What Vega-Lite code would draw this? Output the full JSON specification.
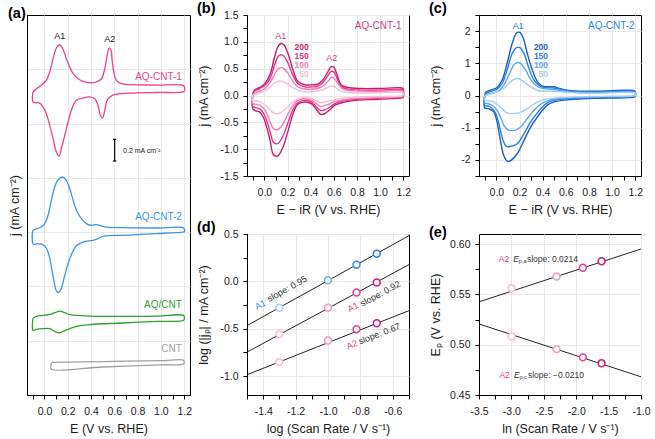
{
"$schema":"https://vega.github.io/schema/vega-lite/v6.json",
"padding":{"left":7,"top":0,"right":0,"bottom":0},
"config":{
 "font":"Liberation Sans",
 "view":{"stroke":"#000","strokeWidth":1},
 "axis":{"domainColor":"#000","domainWidth":1,"tickColor":"#000","tickSize":4,"labelColor":"#1a1a1a","titleColor":"#1a1a1a","labelFontSize":10.5,"titleFontSize":12.5,"titleFontWeight":"normal","gridColor":"#e8e8e8","labelFlush":false,"labelOverlap":false,"labelBound":false,"labelFont":"Liberation Sans","titleFont":"Liberation Sans"},
 "axisX":{"labelPadding":7,"titlePadding":6},
 "axisY":{"labelPadding":5,"titlePadding":9,"minExtent":28,"maxExtent":28},
 "title":{"fontSize":14.5,"fontWeight":"bold","anchor":"start","frame":"bounds","offset":-6,"color":"#000","font":"Liberation Sans"},
 "text":{"font":"Liberation Sans"}
},
"datasets":{
"a":[
{"s":"1","x":-0.098,"y":2.791},{"s":"1","x":-0.069,"y":2.821},{"s":"1","x":-0.027,"y":2.852},{"s":"1","x":0.016,"y":2.898},{"s":"1","x":0.045,"y":2.975},{"s":"1","x":0.074,"y":3.098},{"s":"1","x":0.102,"y":3.196},{"s":"1","x":0.128,"y":3.226},{"s":"1","x":0.154,"y":3.196},{"s":"1","x":0.188,"y":3.098},{"s":"1","x":0.217,"y":3.021},{"s":"1","x":0.246,"y":2.959},{"s":"1","x":0.289,"y":2.913},{"s":"1","x":0.331,"y":2.889},{"s":"1","x":0.389,"y":2.876},{"s":"1","x":0.446,"y":2.883},{"s":"1","x":0.489,"y":2.913},{"s":"1","x":0.518,"y":3.005},{"s":"1","x":0.538,"y":3.128},{"s":"1","x":0.555,"y":3.196},{"s":"1","x":0.569,"y":3.183},{"s":"1","x":0.583,"y":3.067},{"s":"1","x":0.598,"y":2.959},{"s":"1","x":0.618,"y":2.898},{"s":"1","x":0.661,"y":2.867},{"s":"1","x":0.732,"y":2.858},{"s":"1","x":0.961,"y":2.855},{"s":"1","x":1.19,"y":2.852},{"s":"1","x":1.202,"y":2.835},{"s":"1","x":1.202,"y":2.8},{"s":"1","x":1.19,"y":2.791},{"s":"1","x":0.961,"y":2.786},{"s":"1","x":0.661,"y":2.775},{"s":"1","x":0.583,"y":2.76},{"s":"1","x":0.538,"y":2.714},{"s":"1","x":0.518,"y":2.622},{"s":"1","x":0.498,"y":2.551},{"s":"1","x":0.48,"y":2.576},{"s":"1","x":0.46,"y":2.668},{"s":"1","x":0.432,"y":2.729},{"s":"1","x":0.389,"y":2.745},{"s":"1","x":0.331,"y":2.735},{"s":"1","x":0.274,"y":2.714},{"s":"1","x":0.231,"y":2.622},{"s":"1","x":0.203,"y":2.514},{"s":"1","x":0.174,"y":2.392},{"s":"1","x":0.145,"y":2.269},{"s":"1","x":0.125,"y":2.201},{"s":"1","x":0.102,"y":2.238},{"s":"1","x":0.074,"y":2.361},{"s":"1","x":0.045,"y":2.484},{"s":"1","x":0.016,"y":2.591},{"s":"1","x":-0.012,"y":2.652},{"s":"1","x":-0.041,"y":2.689},{"s":"1","x":-0.084,"y":2.692},{"s":"1","x":-0.098,"y":2.698},{"s":"1","x":-0.104,"y":2.729},{"s":"1","x":-0.098,"y":2.791},
{"s":"2","x":-0.098,"y":1.517},{"s":"2","x":-0.069,"y":1.532},{"s":"2","x":-0.027,"y":1.547},{"s":"2","x":0.002,"y":1.578},{"s":"2","x":0.031,"y":1.655},{"s":"2","x":0.059,"y":1.793},{"s":"2","x":0.088,"y":1.916},{"s":"2","x":0.117,"y":1.983},{"s":"2","x":0.154,"y":2.008},{"s":"2","x":0.188,"y":1.977},{"s":"2","x":0.217,"y":1.9},{"s":"2","x":0.246,"y":1.793},{"s":"2","x":0.274,"y":1.701},{"s":"2","x":0.317,"y":1.624},{"s":"2","x":0.36,"y":1.578},{"s":"2","x":0.403,"y":1.563},{"s":"2","x":0.446,"y":1.569},{"s":"2","x":0.489,"y":1.557},{"s":"2","x":0.532,"y":1.547},{"s":"2","x":0.675,"y":1.541},{"s":"2","x":0.961,"y":1.538},{"s":"2","x":1.19,"y":1.541},{"s":"2","x":1.202,"y":1.525},{"s":"2","x":1.202,"y":1.505},{"s":"2","x":1.19,"y":1.501},{"s":"2","x":0.961,"y":1.486},{"s":"2","x":0.675,"y":1.471},{"s":"2","x":0.503,"y":1.462},{"s":"2","x":0.46,"y":1.44},{"s":"2","x":0.417,"y":1.425},{"s":"2","x":0.331,"y":1.409},{"s":"2","x":0.274,"y":1.375},{"s":"2","x":0.232,"y":1.295},{"s":"2","x":0.2,"y":1.2},{"s":"2","x":0.174,"y":1.1},{"s":"2","x":0.15,"y":1.0},{"s":"2","x":0.132,"y":0.955},{"s":"2","x":0.117,"y":0.944},{"s":"2","x":0.1,"y":0.965},{"s":"2","x":0.085,"y":1.03},{"s":"2","x":0.067,"y":1.133},{"s":"2","x":0.045,"y":1.26},{"s":"2","x":0.02,"y":1.345},{"s":"2","x":-0.015,"y":1.385},{"s":"2","x":-0.06,"y":1.392},{"s":"2","x":-0.098,"y":1.39},{"s":"2","x":-0.104,"y":1.43},{"s":"2","x":-0.104,"y":1.49},{"s":"2","x":-0.098,"y":1.517},
{"s":"g","x":-0.098,"y":0.709},{"s":"g","x":-0.069,"y":0.724},{"s":"g","x":-0.012,"y":0.733},{"s":"g","x":0.045,"y":0.743},{"s":"g","x":0.088,"y":0.758},{"s":"g","x":0.131,"y":0.773},{"s":"g","x":0.174,"y":0.758},{"s":"g","x":0.217,"y":0.74},{"s":"g","x":0.274,"y":0.733},{"s":"g","x":0.389,"y":0.727},{"s":"g","x":0.675,"y":0.724},{"s":"g","x":0.961,"y":0.727},{"s":"g","x":1.195,"y":0.733},{"s":"g","x":1.202,"y":0.71},{"s":"g","x":1.195,"y":0.688},{"s":"g","x":0.961,"y":0.678},{"s":"g","x":0.675,"y":0.663},{"s":"g","x":0.389,"y":0.648},{"s":"g","x":0.274,"y":0.632},{"s":"g","x":0.217,"y":0.611},{"s":"g","x":0.16,"y":0.586},{"s":"g","x":0.125,"y":0.571},{"s":"g","x":0.088,"y":0.586},{"s":"g","x":0.045,"y":0.611},{"s":"g","x":-0.012,"y":0.611},{"s":"g","x":-0.069,"y":0.605},{"s":"g","x":-0.098,"y":0.595},{"s":"g","x":-0.104,"y":0.641},{"s":"g","x":-0.098,"y":0.709},
{"s":"c","x":0.06,"y":0.3},{"s":"c","x":0.5,"y":0.308},{"s":"c","x":1.0,"y":0.316},{"s":"c","x":1.195,"y":0.32},{"s":"c","x":1.2,"y":0.3},{"s":"c","x":1.195,"y":0.285},{"s":"c","x":1.0,"y":0.278},{"s":"c","x":0.5,"y":0.258},{"s":"c","x":0.06,"y":0.237},{"s":"c","x":0.055,"y":0.27},{"s":"c","x":0.06,"y":0.3}
],
"b":[
{"s":"200","x":-0.1,"y":0.04},{"s":"200","x":-0.08,"y":0.11},{"s":"200","x":-0.04,"y":0.15},{"s":"200","x":0.0,"y":0.21},{"s":"200","x":0.05,"y":0.4},{"s":"200","x":0.09,"y":0.73},{"s":"200","x":0.12,"y":0.92},{"s":"200","x":0.145,"y":0.97},{"s":"200","x":0.17,"y":0.94},{"s":"200","x":0.205,"y":0.78},{"s":"200","x":0.25,"y":0.46},{"s":"200","x":0.29,"y":0.26},{"s":"200","x":0.35,"y":0.2},{"s":"200","x":0.41,"y":0.2},{"s":"200","x":0.46,"y":0.21},{"s":"200","x":0.506,"y":0.29},{"s":"200","x":0.549,"y":0.44},{"s":"200","x":0.578,"y":0.54},{"s":"200","x":0.6,"y":0.53},{"s":"200","x":0.629,"y":0.38},{"s":"200","x":0.663,"y":0.2},{"s":"200","x":0.72,"y":0.15},{"s":"200","x":0.84,"y":0.13},{"s":"200","x":0.98,"y":0.13},{"s":"200","x":1.19,"y":0.14},{"s":"200","x":1.2,"y":0.12},{"s":"200","x":1.2,"y":-0.03},{"s":"200","x":1.19,"y":-0.045},{"s":"200","x":0.98,"y":-0.07},{"s":"200","x":0.75,"y":-0.1},{"s":"200","x":0.66,"y":-0.14},{"s":"200","x":0.61,"y":-0.18},{"s":"200","x":0.563,"y":-0.27},{"s":"200","x":0.52,"y":-0.34},{"s":"200","x":0.486,"y":-0.35},{"s":"200","x":0.457,"y":-0.28},{"s":"200","x":0.406,"y":-0.15},{"s":"200","x":0.348,"y":-0.12},{"s":"200","x":0.291,"y":-0.16},{"s":"200","x":0.248,"y":-0.34},{"s":"200","x":0.205,"y":-0.66},{"s":"200","x":0.16,"y":-0.97},{"s":"200","x":0.12,"y":-1.12},{"s":"200","x":0.1,"y":-1.13},{"s":"200","x":0.075,"y":-1.09},{"s":"200","x":0.05,"y":-0.84},{"s":"200","x":0.02,"y":-0.59},{"s":"200","x":-0.01,"y":-0.4},{"s":"200","x":-0.04,"y":-0.31},{"s":"200","x":-0.08,"y":-0.28},{"s":"200","x":-0.1,"y":-0.25},{"s":"200","x":-0.104,"y":-0.1},{"s":"200","x":-0.1,"y":0.04},
{"s":"150","x":-0.1,"y":0.03},{"s":"150","x":-0.08,"y":0.09},{"s":"150","x":-0.04,"y":0.13},{"s":"150","x":0.0,"y":0.18},{"s":"150","x":0.05,"y":0.32},{"s":"150","x":0.09,"y":0.58},{"s":"150","x":0.12,"y":0.73},{"s":"150","x":0.145,"y":0.76},{"s":"150","x":0.17,"y":0.73},{"s":"150","x":0.205,"y":0.6},{"s":"150","x":0.25,"y":0.36},{"s":"150","x":0.29,"y":0.22},{"s":"150","x":0.35,"y":0.16},{"s":"150","x":0.41,"y":0.16},{"s":"150","x":0.46,"y":0.17},{"s":"150","x":0.506,"y":0.24},{"s":"150","x":0.549,"y":0.37},{"s":"150","x":0.578,"y":0.45},{"s":"150","x":0.6,"y":0.44},{"s":"150","x":0.629,"y":0.32},{"s":"150","x":0.663,"y":0.17},{"s":"150","x":0.72,"y":0.12},{"s":"150","x":0.84,"y":0.1},{"s":"150","x":0.98,"y":0.1},{"s":"150","x":1.19,"y":0.11},{"s":"150","x":1.2,"y":0.09},{"s":"150","x":1.2,"y":-0.01},{"s":"150","x":1.19,"y":-0.025},{"s":"150","x":0.98,"y":-0.05},{"s":"150","x":0.75,"y":-0.08},{"s":"150","x":0.66,"y":-0.11},{"s":"150","x":0.61,"y":-0.15},{"s":"150","x":0.563,"y":-0.22},{"s":"150","x":0.52,"y":-0.27},{"s":"150","x":0.486,"y":-0.28},{"s":"150","x":0.457,"y":-0.23},{"s":"150","x":0.406,"y":-0.12},{"s":"150","x":0.348,"y":-0.09},{"s":"150","x":0.291,"y":-0.13},{"s":"150","x":0.248,"y":-0.26},{"s":"150","x":0.205,"y":-0.5},{"s":"150","x":0.16,"y":-0.76},{"s":"150","x":0.12,"y":-0.89},{"s":"150","x":0.1,"y":-0.9},{"s":"150","x":0.075,"y":-0.86},{"s":"150","x":0.05,"y":-0.68},{"s":"150","x":0.02,"y":-0.47},{"s":"150","x":-0.01,"y":-0.32},{"s":"150","x":-0.04,"y":-0.25},{"s":"150","x":-0.08,"y":-0.22},{"s":"150","x":-0.1,"y":-0.21},{"s":"150","x":-0.104,"y":-0.08},{"s":"150","x":-0.1,"y":0.03},
{"s":"100","x":-0.1,"y":0.02},{"s":"100","x":-0.07,"y":0.06},{"s":"100","x":-0.03,"y":0.09},{"s":"100","x":0.01,"y":0.14},{"s":"100","x":0.05,"y":0.24},{"s":"100","x":0.09,"y":0.4},{"s":"100","x":0.12,"y":0.5},{"s":"100","x":0.145,"y":0.52},{"s":"100","x":0.17,"y":0.5},{"s":"100","x":0.205,"y":0.41},{"s":"100","x":0.25,"y":0.25},{"s":"100","x":0.29,"y":0.16},{"s":"100","x":0.35,"y":0.12},{"s":"100","x":0.41,"y":0.12},{"s":"100","x":0.46,"y":0.13},{"s":"100","x":0.52,"y":0.2},{"s":"100","x":0.56,"y":0.29},{"s":"100","x":0.58,"y":0.34},{"s":"100","x":0.6,"y":0.33},{"s":"100","x":0.64,"y":0.21},{"s":"100","x":0.68,"y":0.12},{"s":"100","x":0.75,"y":0.09},{"s":"100","x":0.98,"y":0.08},{"s":"100","x":1.19,"y":0.09},{"s":"100","x":1.2,"y":0.07},{"s":"100","x":1.2,"y":-0.005},{"s":"100","x":1.19,"y":-0.02},{"s":"100","x":0.98,"y":-0.04},{"s":"100","x":0.75,"y":-0.06},{"s":"100","x":0.66,"y":-0.09},{"s":"100","x":0.61,"y":-0.11},{"s":"100","x":0.56,"y":-0.16},{"s":"100","x":0.52,"y":-0.19},{"s":"100","x":0.49,"y":-0.21},{"s":"100","x":0.46,"y":-0.17},{"s":"100","x":0.41,"y":-0.09},{"s":"100","x":0.35,"y":-0.06},{"s":"100","x":0.29,"y":-0.09},{"s":"100","x":0.25,"y":-0.18},{"s":"100","x":0.205,"y":-0.34},{"s":"100","x":0.16,"y":-0.54},{"s":"100","x":0.12,"y":-0.63},{"s":"100","x":0.1,"y":-0.64},{"s":"100","x":0.075,"y":-0.61},{"s":"100","x":0.05,"y":-0.49},{"s":"100","x":0.02,"y":-0.33},{"s":"100","x":-0.01,"y":-0.23},{"s":"100","x":-0.04,"y":-0.18},{"s":"100","x":-0.08,"y":-0.16},{"s":"100","x":-0.1,"y":-0.15},{"s":"100","x":-0.104,"y":-0.06},{"s":"100","x":-0.1,"y":0.02},
{"s":"50","x":-0.1,"y":0.01},{"s":"50","x":-0.05,"y":0.04},{"s":"50","x":0.01,"y":0.09},{"s":"50","x":0.06,"y":0.18},{"s":"50","x":0.1,"y":0.25},{"s":"50","x":0.13,"y":0.27},{"s":"50","x":0.17,"y":0.25},{"s":"50","x":0.22,"y":0.18},{"s":"50","x":0.29,"y":0.1},{"s":"50","x":0.35,"y":0.07},{"s":"50","x":0.41,"y":0.07},{"s":"50","x":0.48,"y":0.09},{"s":"50","x":0.55,"y":0.15},{"s":"50","x":0.58,"y":0.18},{"s":"50","x":0.61,"y":0.16},{"s":"50","x":0.66,"y":0.08},{"s":"50","x":0.75,"y":0.05},{"s":"50","x":0.98,"y":0.05},{"s":"50","x":1.19,"y":0.06},{"s":"50","x":1.2,"y":0.045},{"s":"50","x":1.2,"y":0.0},{"s":"50","x":1.19,"y":-0.01},{"s":"50","x":0.98,"y":-0.02},{"s":"50","x":0.75,"y":-0.04},{"s":"50","x":0.64,"y":-0.06},{"s":"50","x":0.57,"y":-0.1},{"s":"50","x":0.52,"y":-0.12},{"s":"50","x":0.48,"y":-0.13},{"s":"50","x":0.44,"y":-0.09},{"s":"50","x":0.4,"y":-0.05},{"s":"50","x":0.33,"y":-0.04},{"s":"50","x":0.28,"y":-0.07},{"s":"50","x":0.23,"y":-0.15},{"s":"50","x":0.17,"y":-0.28},{"s":"50","x":0.12,"y":-0.34},{"s":"50","x":0.1,"y":-0.34},{"s":"50","x":0.07,"y":-0.31},{"s":"50","x":0.03,"y":-0.22},{"s":"50","x":-0.02,"y":-0.14},{"s":"50","x":-0.06,"y":-0.1},{"s":"50","x":-0.1,"y":-0.09},{"s":"50","x":-0.104,"y":-0.04},{"s":"50","x":-0.1,"y":0.01}
],
"c":[
{"s":"200","x":-0.1,"y":0.01},{"s":"200","x":-0.09,"y":0.11},{"s":"200","x":-0.051,"y":0.17},{"s":"200","x":0.006,"y":0.25},{"s":"200","x":0.05,"y":0.48},{"s":"200","x":0.093,"y":1.0},{"s":"200","x":0.137,"y":1.62},{"s":"200","x":0.175,"y":1.94},{"s":"200","x":0.203,"y":1.96},{"s":"200","x":0.233,"y":1.78},{"s":"200","x":0.267,"y":1.31},{"s":"200","x":0.311,"y":0.79},{"s":"200","x":0.354,"y":0.43},{"s":"200","x":0.398,"y":0.29},{"s":"200","x":0.456,"y":0.27},{"s":"200","x":0.499,"y":0.27},{"s":"200","x":0.543,"y":0.22},{"s":"200","x":0.644,"y":0.15},{"s":"200","x":0.847,"y":0.13},{"s":"200","x":1.19,"y":0.15},{"s":"200","x":1.2,"y":0.12},{"s":"200","x":1.2,"y":-0.03},{"s":"200","x":1.19,"y":-0.05},{"s":"200","x":0.847,"y":-0.09},{"s":"200","x":0.644,"y":-0.125},{"s":"200","x":0.499,"y":-0.2},{"s":"200","x":0.441,"y":-0.3},{"s":"200","x":0.398,"y":-0.46},{"s":"200","x":0.354,"y":-0.67},{"s":"200","x":0.296,"y":-0.98},{"s":"200","x":0.238,"y":-1.4},{"s":"200","x":0.18,"y":-1.81},{"s":"200","x":0.122,"y":-2.02},{"s":"200","x":0.095,"y":-2.04},{"s":"200","x":0.064,"y":-1.86},{"s":"200","x":0.035,"y":-1.4},{"s":"200","x":0.006,"y":-0.82},{"s":"200","x":-0.023,"y":-0.51},{"s":"200","x":-0.066,"y":-0.41},{"s":"200","x":-0.1,"y":-0.39},{"s":"200","x":-0.106,"y":-0.2},{"s":"200","x":-0.1,"y":0.01},
{"s":"150","x":-0.1,"y":0.0},{"s":"150","x":-0.08,"y":0.083},{"s":"150","x":-0.037,"y":0.135},{"s":"150","x":0.006,"y":0.198},{"s":"150","x":0.05,"y":0.375},{"s":"150","x":0.093,"y":0.79},{"s":"150","x":0.137,"y":1.31},{"s":"150","x":0.175,"y":1.49},{"s":"150","x":0.203,"y":1.49},{"s":"150","x":0.238,"y":1.31},{"s":"150","x":0.282,"y":0.84},{"s":"150","x":0.325,"y":0.48},{"s":"150","x":0.369,"y":0.32},{"s":"150","x":0.412,"y":0.25},{"s":"150","x":0.499,"y":0.23},{"s":"150","x":0.644,"y":0.13},{"s":"150","x":0.847,"y":0.11},{"s":"150","x":1.19,"y":0.13},{"s":"150","x":1.2,"y":0.11},{"s":"150","x":1.2,"y":-0.015},{"s":"150","x":1.19,"y":-0.03},{"s":"150","x":0.847,"y":-0.063},{"s":"150","x":0.644,"y":-0.094},{"s":"150","x":0.499,"y":-0.146},{"s":"150","x":0.441,"y":-0.229},{"s":"150","x":0.398,"y":-0.354},{"s":"150","x":0.354,"y":-0.542},{"s":"150","x":0.296,"y":-0.823},{"s":"150","x":0.238,"y":-1.188},{"s":"150","x":0.18,"y":-1.5},{"s":"150","x":0.122,"y":-1.583},{"s":"150","x":0.088,"y":-1.583},{"s":"150","x":0.064,"y":-1.448},{"s":"150","x":0.035,"y":-1.083},{"s":"150","x":0.006,"y":-0.667},{"s":"150","x":-0.023,"y":-0.458},{"s":"150","x":-0.066,"y":-0.333},{"s":"150","x":-0.1,"y":-0.313},{"s":"150","x":-0.106,"y":-0.15},{"s":"150","x":-0.1,"y":0.0},
{"s":"100","x":-0.1,"y":0.0},{"s":"100","x":-0.066,"y":0.042},{"s":"100","x":-0.023,"y":0.083},{"s":"100","x":0.021,"y":0.146},{"s":"100","x":0.064,"y":0.323},{"s":"100","x":0.108,"y":0.635},{"s":"100","x":0.151,"y":0.948},{"s":"100","x":0.18,"y":1.021},{"s":"100","x":0.209,"y":1.0},{"s":"100","x":0.253,"y":0.792},{"s":"100","x":0.296,"y":0.5},{"s":"100","x":0.34,"y":0.323},{"s":"100","x":0.398,"y":0.219},{"s":"100","x":0.499,"y":0.188},{"s":"100","x":0.644,"y":0.11},{"s":"100","x":0.847,"y":0.09},{"s":"100","x":1.19,"y":0.11},{"s":"100","x":1.2,"y":0.09},{"s":"100","x":1.2,"y":-0.01},{"s":"100","x":1.19,"y":-0.02},{"s":"100","x":0.847,"y":-0.042},{"s":"100","x":0.644,"y":-0.073},{"s":"100","x":0.499,"y":-0.115},{"s":"100","x":0.441,"y":-0.167},{"s":"100","x":0.383,"y":-0.271},{"s":"100","x":0.325,"y":-0.458},{"s":"100","x":0.267,"y":-0.719},{"s":"100","x":0.209,"y":-0.979},{"s":"100","x":0.157,"y":-1.083},{"s":"100","x":0.108,"y":-1.083},{"s":"100","x":0.07,"y":-0.958},{"s":"100","x":0.035,"y":-0.667},{"s":"100","x":0.006,"y":-0.458},{"s":"100","x":-0.037,"y":-0.302},{"s":"100","x":-0.08,"y":-0.25},{"s":"100","x":-0.1,"y":-0.235},{"s":"100","x":-0.106,"y":-0.12},{"s":"100","x":-0.1,"y":0.0},
{"s":"50","x":-0.1,"y":0.0},{"s":"50","x":-0.051,"y":0.052},{"s":"50","x":0.006,"y":0.115},{"s":"50","x":0.064,"y":0.219},{"s":"50","x":0.122,"y":0.427},{"s":"50","x":0.166,"y":0.521},{"s":"50","x":0.195,"y":0.521},{"s":"50","x":0.238,"y":0.427},{"s":"50","x":0.296,"y":0.271},{"s":"50","x":0.369,"y":0.146},{"s":"50","x":0.499,"y":0.13},{"s":"50","x":0.644,"y":0.09},{"s":"50","x":0.847,"y":0.07},{"s":"50","x":1.19,"y":0.09},{"s":"50","x":1.2,"y":0.07},{"s":"50","x":1.2,"y":0.0},{"s":"50","x":1.19,"y":-0.01},{"s":"50","x":0.847,"y":-0.031},{"s":"50","x":0.644,"y":-0.052},{"s":"50","x":0.499,"y":-0.083},{"s":"50","x":0.412,"y":-0.125},{"s":"50","x":0.34,"y":-0.229},{"s":"50","x":0.267,"y":-0.406},{"s":"50","x":0.195,"y":-0.542},{"s":"50","x":0.137,"y":-0.563},{"s":"50","x":0.093,"y":-0.542},{"s":"50","x":0.05,"y":-0.406},{"s":"50","x":0.006,"y":-0.271},{"s":"50","x":-0.051,"y":-0.167},{"s":"50","x":-0.1,"y":-0.146},{"s":"50","x":-0.106,"y":-0.07},{"s":"50","x":-0.1,"y":0.0}
],
"d":[{"x":-1.301,"y":-0.278,"k":"b50"},{"x":-1,"y":0.012,"k":"b100"},{"x":-0.824,"y":0.176,"k":"b150"},{"x":-0.699,"y":0.291,"k":"b200"},{"x":-1.301,"y":-0.557,"k":"p50"},{"x":-1,"y":-0.278,"k":"p100"},{"x":-0.824,"y":-0.118,"k":"p150"},{"x":-0.699,"y":-0.012,"k":"p200"},{"x":-1.301,"y":-0.853,"k":"p50"},{"x":-1,"y":-0.624,"k":"p100"},{"x":-0.824,"y":-0.505,"k":"p150"},{"x":-0.699,"y":-0.442,"k":"p200"}],
"dl":[{"x":-1.5,"y":-0.467,"x2":-0.5,"y2":0.483},{"x":-1.5,"y":-0.747,"x2":-0.5,"y2":0.177},{"x":-1.5,"y":-0.986,"x2":-0.5,"y2":-0.309}],
"e":[{"x":-2.996,"y":0.556,"k":"q50"},{"x":-2.303,"y":0.5678,"k":"q100"},{"x":-1.897,"y":0.5764,"k":"q150"},{"x":-1.609,"y":0.5829,"k":"q200"},{"x":-2.996,"y":0.5081,"k":"q50"},{"x":-2.303,"y":0.4956,"k":"q100"},{"x":-1.897,"y":0.4874,"k":"q150"},{"x":-1.609,"y":0.4815,"k":"q200"}],
"el":[{"x":-3.5,"y":0.5426,"x2":-1,"y2":0.5951},{"x":-3.5,"y":0.5206,"x2":-1,"y2":0.4681}]
},
"spacing":4,
"resolve":{"scale":{"color":"independent"}},
"hconcat":[
{
 "width":163,"height":380,"title":"(a)",
 "layer":[
  {"data":{"name":"a"},"mark":{"type":"line","interpolate":"catmull-rom","strokeWidth":1.3},
   "encoding":{
    "x":{"field":"x","type":"quantitative","scale":{"domain":[-0.15,1.25],"nice":false,"zero":false},
      "axis":{"title":"E (V vs. RHE)","tickCount":100,"labelOverlap":false,"values":[-0.1,0,0.1,0.2,0.3,0.4,0.5,0.6,0.7,0.8,0.9,1,1.1,1.2],"labelExpr":"abs(datum.value*5-round(datum.value*5))<0.01 ? format(datum.value,'.1f') : ''","gridOpacity":{"condition":{"test":"abs(datum.value*5-round(datum.value*5))<0.01","value":1},"value":0}}},
    "y":{"field":"y","type":"quantitative","scale":{"domain":[0,3.5],"nice":false,"zero":false},
      "axis":{"title":"j (mA cm⁻²)","tickCount":100,"labels":false,"ticks":false,"values":[0.5,1,1.5,2,2.5,3],"minExtent":0,"maxExtent":0,"titlePadding":6}},
    "color":{"field":"s","type":"nominal","scale":{"domain":["1","2","g","c"],"range":["#ef3f8e","#3796e8","#2ca42c","#a0a0a0"]},"legend":null},
    "order":{"value":null}
   }},
  {"data":{"values":[{"x":0.131,"y":3.306,"t":"A1"},{"x":0.56,"y":3.275,"t":"A2"}]},"mark":{"type":"text","fontSize":9,"color":"#222"},
   "encoding":{"x":{"field":"x","type":"quantitative"},"y":{"field":"y","type":"quantitative"},"text":{"field":"t"}}},
  {"data":{"values":[{"x":1.18,"y":2.928,"t":"AQ-CNT-1","s":"1"},{"x":1.18,"y":1.639,"t":"AQ-CNT-2","s":"2"},{"x":1.18,"y":0.829,"t":"AQ/CNT","s":"g"},{"x":1.18,"y":0.424,"t":"CNT","s":"c"}]},"mark":{"type":"text","align":"right","fontSize":10},
   "encoding":{"x":{"field":"x","type":"quantitative"},"y":{"field":"y","type":"quantitative"},"text":{"field":"t"},"color":{"field":"s","type":"nominal","legend":null}}},
  {"data":{"values":[{"x":0.603,"x2":0.603,"y":2.155,"y2":2.355},{"x":0.589,"x2":0.617,"y":2.155,"y2":2.155},{"x":0.589,"x2":0.617,"y":2.355,"y2":2.355}]},"mark":{"type":"rule","color":"#000","strokeWidth":1.2},
   "encoding":{"x":{"field":"x","type":"quantitative"},"x2":{"field":"x2"},"y":{"field":"y","type":"quantitative"},"y2":{"field":"y2"}}},
  {"data":{"values":[{"x":0.675,"y":2.25,"t":"0.2 mA cm⁻²"}]},"mark":{"type":"text","align":"left","fontSize":7,"color":"#222"},
   "encoding":{"x":{"field":"x","type":"quantitative"},"y":{"field":"y","type":"quantitative"},"text":{"field":"t"}}}
 ]
},
{
 "columns":2,"spacing":{"row":2,"column":16},
 "resolve":{"scale":{"color":"independent"}},
 "concat":[
  {
   "width":162,"height":161,"title":"(b)",
   "layer":[
    {"data":{"name":"b"},"mark":{"type":"line","interpolate":"catmull-rom","strokeWidth":1.4},
     "encoding":{
      "x":{"field":"x","type":"quantitative","scale":{"domain":[-0.15,1.25],"nice":false,"zero":false},
        "axis":{"title":"E − iR (V vs. RHE)","tickCount":100,"labelOverlap":false,"values":[-0.1,0,0.1,0.2,0.3,0.4,0.5,0.6,0.7,0.8,0.9,1,1.1,1.2],"labelExpr":"abs(datum.value*5-round(datum.value*5))<0.01 ? format(datum.value,'.1f') : ''","gridOpacity":{"condition":{"test":"abs(datum.value*5-round(datum.value*5))<0.01","value":1},"value":0}}},
      "y":{"field":"y","type":"quantitative","scale":{"domain":[-1.5,1.5],"nice":false,"zero":false},
        "axis":{"title":"j (mA cm⁻²)","tickCount":100,"labelOverlap":false,"values":[-1.5,-1.25,-1,-0.75,-0.5,-0.25,0,0.25,0.5,0.75,1,1.25,1.5],"labelExpr":"abs(datum.value*2-round(datum.value*2))<0.01 ? replace(format(datum.value,'.1f'),'−','-') : ''","gridOpacity":{"condition":{"test":"abs(datum.value*2-round(datum.value*2))<0.01","value":1},"value":0}}},
      "color":{"field":"s","type":"nominal","scale":{"domain":["200","150","100","50"],"range":["#c8196b","#e2358a","#f07fb4","#f7bdd7"]},"legend":null},
      "order":{"value":null}
     }},
    {"data":{"values":[{"x":0.383,"y":0.9,"s":"200"},{"x":0.383,"y":0.731,"s":"150"},{"x":0.383,"y":0.5625,"s":"100"},{"x":0.383,"y":0.4,"s":"50"}]},"mark":{"type":"text","align":"right","fontSize":8.5,"fontWeight":"bold"},
     "encoding":{"x":{"field":"x","type":"quantitative"},"y":{"field":"y","type":"quantitative"},"text":{"field":"s"},"color":{"field":"s","type":"nominal","legend":null}}},
    {"data":{"values":[{"x":0.142,"y":1.112,"t":"A1"},{"x":0.583,"y":0.694,"t":"A2"}]},"mark":{"type":"text","fontSize":9,"color":"#e2358a"},
     "encoding":{"x":{"field":"x","type":"quantitative"},"y":{"field":"y","type":"quantitative"},"text":{"field":"t"}}},
    {"data":{"values":[{"x":1.185,"y":1.3,"t":"AQ-CNT-1"}]},"mark":{"type":"text","align":"right","fontSize":10,"color":"#e2358a"},
     "encoding":{"x":{"field":"x","type":"quantitative"},"y":{"field":"y","type":"quantitative"},"text":{"field":"t"}}}
   ]
  },
  {
   "width":162,"height":161,"title":"(c)",
   "layer":[
    {"data":{"name":"c"},"mark":{"type":"line","interpolate":"catmull-rom","strokeWidth":1.4},
     "encoding":{
      "x":{"field":"x","type":"quantitative","scale":{"domain":[-0.15,1.25],"nice":false,"zero":false},
        "axis":{"title":"E − iR (V vs. RHE)","tickCount":100,"labelOverlap":false,"values":[-0.1,0,0.1,0.2,0.3,0.4,0.5,0.6,0.7,0.8,0.9,1,1.1,1.2],"labelExpr":"abs(datum.value*5-round(datum.value*5))<0.01 ? format(datum.value,'.1f') : ''","gridOpacity":{"condition":{"test":"abs(datum.value*5-round(datum.value*5))<0.01","value":1},"value":0}}},
      "y":{"field":"y","type":"quantitative","scale":{"domain":[-2.5,2.5],"nice":false,"zero":false},
        "axis":{"title":"j (mA cm⁻²)","tickCount":100,"labelOverlap":false,"values":[-2.5,-2,-1.5,-1,-0.5,0,0.5,1,1.5,2,2.5],"labelExpr":"abs(datum.value-round(datum.value))<0.01 && abs(datum.value)<2.4 ? replace(format(datum.value,'.0f'),'−','-') : ''","gridOpacity":{"condition":{"test":"abs(datum.value-round(datum.value))<0.01","value":1},"value":0}}},
      "color":{"field":"s","type":"nominal","scale":{"domain":["200","150","100","50"],"range":["#175fbf","#2a7fdb","#5ba7ed","#a3cdf4"]},"legend":null},
      "order":{"value":null}
     }},
    {"data":{"values":[{"x":0.447,"y":1.5,"s":"200"},{"x":0.447,"y":1.23,"s":"150"},{"x":0.447,"y":0.947,"s":"100"},{"x":0.447,"y":0.656,"s":"50"}]},"mark":{"type":"text","align":"right","fontSize":8.5,"fontWeight":"bold"},
     "encoding":{"x":{"field":"x","type":"quantitative"},"y":{"field":"y","type":"quantitative"},"text":{"field":"s"},"color":{"field":"s","type":"nominal","legend":null}}},
    {"data":{"values":[{"x":0.189,"y":2.166,"t":"A1"}]},"mark":{"type":"text","fontSize":9,"color":"#2a86e0"},
     "encoding":{"x":{"field":"x","type":"quantitative"},"y":{"field":"y","type":"quantitative"},"text":{"field":"t"}}},
    {"data":{"values":[{"x":1.195,"y":2.166,"t":"AQ-CNT-2"}]},"mark":{"type":"text","align":"right","fontSize":10,"color":"#2a86e0"},
     "encoding":{"x":{"field":"x","type":"quantitative"},"y":{"field":"y","type":"quantitative"},"text":{"field":"t"}}}
   ]
  },
  {
   "width":162,"height":161,"title":"(d)",
   "layer":[
    {"data":{"name":"dl"},"mark":{"type":"rule","color":"#222","strokeWidth":1},
     "encoding":{
      "x":{"field":"x","type":"quantitative","scale":{"domain":[-1.5,-0.5],"nice":false,"zero":false},
        "axis":{"title":"log (Scan Rate / V s⁻¹)","tickCount":100,"labelOverlap":false,"values":[-1.5,-1.4,-1.3,-1.2,-1.1,-1,-0.9,-0.8,-0.7,-0.6,-0.5],"labelExpr":"abs(datum.value*5-round(datum.value*5))<0.01 ? replace(format(datum.value,'.1f'),'−','-') : ''","gridOpacity":{"condition":{"test":"abs(datum.value*5-round(datum.value*5))<0.01","value":1},"value":0}}},
      "y":{"field":"y","type":"quantitative","scale":{"domain":[-1.2,0.5],"nice":false,"zero":false},
        "axis":{"title":"log (|jₚ| / mA cm⁻²)","tickCount":100,"labelOverlap":false,"values":[-1,-0.75,-0.5,-0.25,0,0.25,0.5],"labelExpr":"abs(datum.value*2-round(datum.value*2))<0.01 ? replace(format(datum.value,'.1f'),'−','-') : ''","gridOpacity":{"condition":{"test":"abs(datum.value*2-round(datum.value*2))<0.01","value":1},"value":0}}},
      "x2":{"field":"x2"},"y2":{"field":"y2"}
     }},
    {"data":{"name":"d"},"mark":{"type":"point","shape":"circle","filled":false,"fill":"#ffffff","fillOpacity":1,"size":48,"strokeWidth":1.5},
     "encoding":{"x":{"field":"x","type":"quantitative"},"y":{"field":"y","type":"quantitative"},
      "color":{"field":"k","type":"nominal","scale":{"domain":["b50","b100","b150","b200","p50","p100","p150","p200","txt"],"range":["#a8cff5","#6fb2f0","#3c93e6","#2a80dc","#f8bcd6","#f29ac3","#e6418e","#cf1c6e","#333333"]},"legend":null}}},
    {"data":{"values":[{"x":-1.418,"y":-0.247,"t":"A1","k":"b150"},{"x":-1.253,"y":-0.078,"t":"slope: 0.95","k":"txt"}]},"mark":{"type":"text","fontSize":9,"angle":331},
     "encoding":{"x":{"field":"x","type":"quantitative"},"y":{"field":"y","type":"quantitative"},"text":{"field":"t"},"color":{"field":"k","type":"nominal","legend":null}}},
    {"data":{"values":[{"x":-0.846,"y":-0.271,"t":"A1","k":"p150"},{"x":-0.677,"y":-0.13,"t":"slope: 0.92","k":"txt"}]},"mark":{"type":"text","fontSize":9,"angle":331.7},
     "encoding":{"x":{"field":"x","type":"quantitative"},"y":{"field":"y","type":"quantitative"},"text":{"field":"t"},"color":{"field":"k","type":"nominal","legend":null}}},
    {"data":{"values":[{"x":-0.852,"y":-0.669,"t":"A2","k":"p150"},{"x":-0.683,"y":-0.553,"t":"slope: 0.67","k":"txt"}]},"mark":{"type":"text","fontSize":9,"angle":338.6},
     "encoding":{"x":{"field":"x","type":"quantitative"},"y":{"field":"y","type":"quantitative"},"text":{"field":"t"},"color":{"field":"k","type":"nominal","legend":null}}}
   ]
  },
  {
   "width":162,"height":161,"title":"(e)",
   "layer":[
    {"data":{"name":"el"},"mark":{"type":"rule","color":"#222","strokeWidth":1},
     "encoding":{
      "x":{"field":"x","type":"quantitative","scale":{"domain":[-3.5,-1.0],"nice":false,"zero":false},
        "axis":{"title":"ln (Scan Rate / V s⁻¹)","tickCount":100,"labelOverlap":false,"values":[-3.5,-3.25,-3,-2.75,-2.5,-2.25,-2,-1.75,-1.5,-1.25,-1],"labelExpr":"abs(datum.value*2-round(datum.value*2))<0.01 ? replace(format(datum.value,'.1f'),'−','-') : ''","gridOpacity":{"condition":{"test":"abs(datum.value*2-round(datum.value*2))<0.01","value":1},"value":0}}},
      "y":{"field":"y","type":"quantitative","scale":{"domain":[0.45,0.61],"nice":false,"zero":false},
        "axis":{"title":"Eₚ (V vs. RHE)","tickCount":100,"labelOverlap":false,"values":[0.45,0.475,0.5,0.525,0.55,0.575,0.6],"labelExpr":"abs(datum.value*20-round(datum.value*20))<0.01 ? format(datum.value,'.2f') : ''","gridOpacity":{"condition":{"test":"abs(datum.value*20-round(datum.value*20))<0.01","value":1},"value":0}}},
      "x2":{"field":"x2"},"y2":{"field":"y2"}
     }},
    {"data":{"name":"e"},"mark":{"type":"point","shape":"circle","filled":false,"fill":"#ffffff","fillOpacity":1,"size":48,"strokeWidth":1.5},
     "encoding":{"x":{"field":"x","type":"quantitative"},"y":{"field":"y","type":"quantitative"},
      "color":{"field":"k","type":"nominal","scale":{"domain":["q50","q100","q150","q200"],"range":["#f8bcd6","#f29ac3","#e6418e","#cf1c6e"]},"legend":null}}},
    {"data":{"values":[{"x":-3.195,"y":0.5854,"t":"A2"},{"x":-3.185,"y":0.4701,"t":"A2"}]},"mark":{"type":"text","align":"left","fontSize":8.5,"color":"#e6418e"},
     "encoding":{"x":{"field":"x","type":"quantitative"},"y":{"field":"y","type":"quantitative"},"text":{"field":"t"}}},
    {"data":{"values":[{"x":-2.97,"y":0.5854,"t":"E"},{"x":-2.96,"y":0.4701,"t":"E"}]},"mark":{"type":"text","align":"left","fontSize":8.5,"fontStyle":"italic","color":"#333"},
     "encoding":{"x":{"field":"x","type":"quantitative"},"y":{"field":"y","type":"quantitative"},"text":{"field":"t"}}},
    {"data":{"values":[{"x":-2.885,"y":0.5832,"t":"p,a"},{"x":-2.875,"y":0.4679,"t":"p,c"}]},"mark":{"type":"text","align":"left","fontSize":5.5,"color":"#333"},
     "encoding":{"x":{"field":"x","type":"quantitative"},"y":{"field":"y","type":"quantitative"},"text":{"field":"t"}}},
    {"data":{"values":[{"x":-2.76,"y":0.5854,"t":"slope: 0.0214"},{"x":-2.745,"y":0.4701,"t":"slope: −0.0210"}]},"mark":{"type":"text","align":"left","fontSize":8.5,"color":"#333"},
     "encoding":{"x":{"field":"x","type":"quantitative"},"y":{"field":"y","type":"quantitative"},"text":{"field":"t"}}}
   ]
  }
 ]
}
]
}
